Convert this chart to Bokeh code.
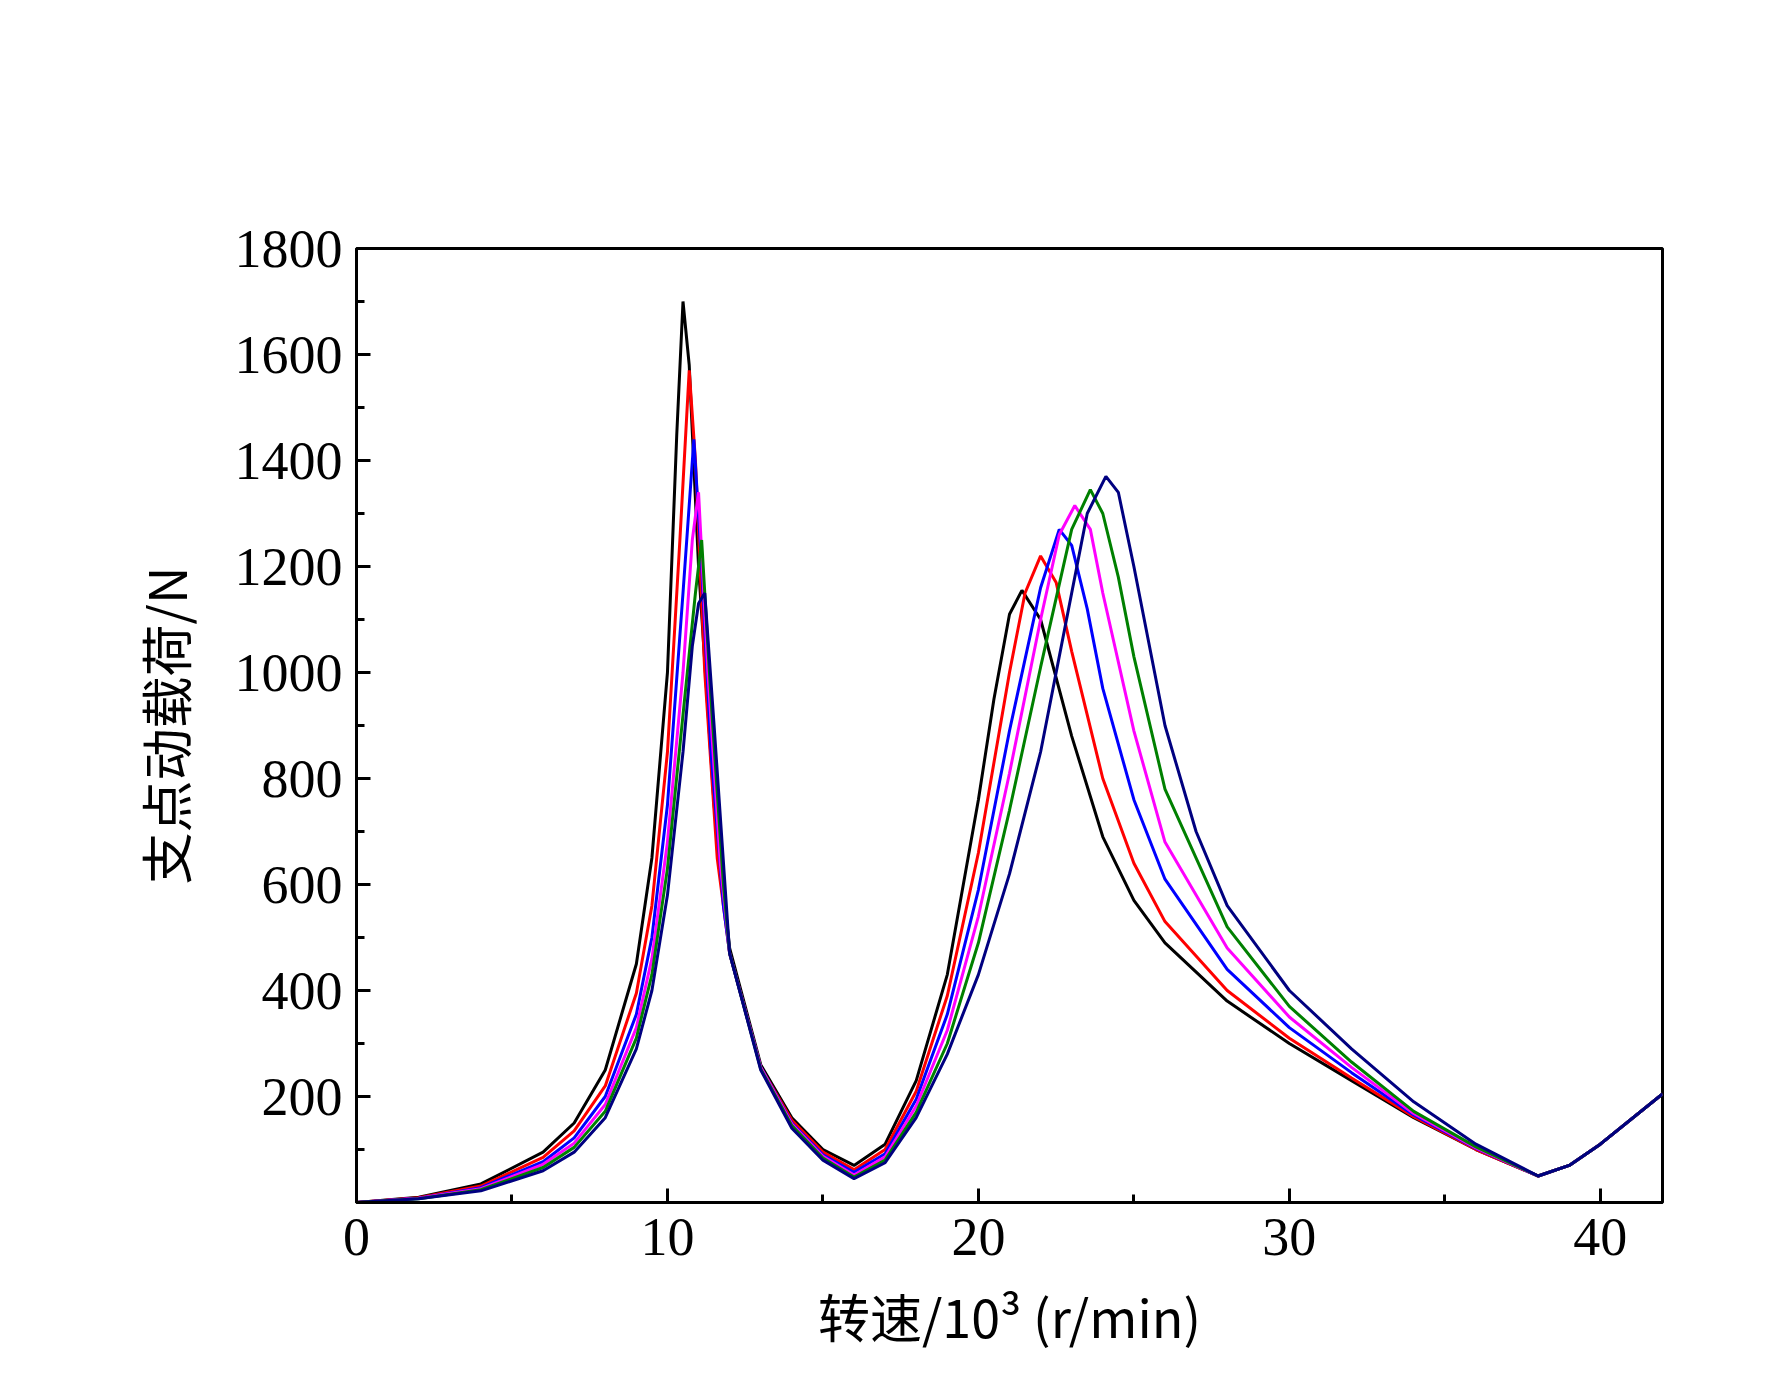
from bokeh.plotting import figure
from bokeh.models import Legend, LegendItem, FixedTicker, Range1d
from bokeh.embed import file_html
from bokeh.resources import INLINE

labels = ["k₃=1.8×10⁷ N/m", "k₃=2.0×10⁷ N/m", "k₃=2.2×10⁷ N/m",
          "k₃=2.4×10⁷ N/m", "k₃=2.6×10⁷ N/m", "k₃=2.8×10⁷ N/m"]
colors = ["black", "red", "blue", "magenta", "green", "navy"]

x1 = [0,2,4,6,7,8,9,9.5,10,10.3,10.5,10.7,11,11.5,12,13,14,15,16,17,18,19,20,20.5,21,21.4,22,23,24,25,26,28,30,32,34,36,38,39,40,42]
y1 = [0,10,35,95,150,250,450,650,1000,1450,1700,1580,1200,750,480,260,160,100,70,110,230,430,760,950,1110,1155,1100,880,690,570,490,380,300,230,160,100,50,70,110,205]
x2 = [0,2,4,6,7,8,9,9.5,10,10.4,10.7,10.9,11.2,11.6,12,13,14,15,16,17,18,19,20,21,21.5,22,22.5,23,24,25,26,28,30,32,34,36,38,39,40,42]
y2 = [0,9,31,85,135,220,395,560,850,1250,1570,1400,1000,650,470,255,155,95,62,100,210,390,660,1000,1150,1220,1170,1040,800,640,530,400,310,235,162,100,50,70,110,205]
x3 = [0,2,4,6,7,8,9,9.5,10,10.5,10.85,11.1,11.4,11.8,12,13,14,15,16,17,18,19,20,21,22,22.6,23,23.5,24,25,26,28,30,32,34,36,38,39,40,42]
y3 = [0,8,28,77,122,200,355,500,750,1150,1440,1200,850,560,470,255,150,90,57,92,195,355,590,890,1160,1270,1240,1120,970,760,610,440,330,245,165,102,50,70,110,205]
x4 = [0,2,4,6,7,8,9,9.5,10,10.5,10.8,11.0,11.3,11.7,12,13,14,15,16,17,18,19,20,21,22,22.6,23.1,23.6,24,25,26,28,30,32,34,36,38,39,40,42]
y4 = [0,8,26,72,112,185,330,460,680,1000,1250,1340,1000,640,470,255,148,87,52,86,182,325,540,810,1100,1260,1315,1270,1150,890,680,480,350,255,168,103,50,70,110,205]
x5 = [0,2,4,6,7,8,9,9.5,10,10.5,10.9,11.1,11.4,11.8,12,13,14,15,16,17,18,19,20,21,22,23,23.6,24,24.5,25,26,28,30,32,34,36,38,39,40,42]
y5 = [0,7,24,66,104,172,310,430,630,920,1150,1250,950,600,470,252,145,84,48,80,170,300,490,740,1010,1270,1345,1300,1180,1030,780,520,370,265,172,105,50,70,110,205]
x6 = [0,2,4,6,7,8,9,9.5,10,10.5,10.8,11.0,11.2,11.5,12,13,14,15,16,17,18,19,20,21,22,23,23.5,24.1,24.5,25,26,27,28,30,32,34,36,38,39,40,42]
y6 = [0,7,22,60,95,160,290,400,580,850,1050,1130,1150,900,470,250,140,80,45,75,160,280,430,620,850,1150,1300,1370,1340,1200,900,700,560,400,290,190,110,50,70,110,205]
xs = [x1, x2, x3, x4, x5, x6]
ys = [y1, y2, y3, y4, y5, y6]

FONT = "Liberation Serif"
p = figure(width=1756, height=1380, output_backend="svg", toolbar_location=None,
           x_range=Range1d(0, 42), y_range=Range1d(0, 1800),
           min_border_left=356, min_border_right=94, min_border_bottom=178, min_border_top=248)
p.grid.visible = False
p.outline_line_color = "black"
p.outline_line_width = 3

items = []
for x, y, c, l in zip(xs, ys, colors, labels):
    r = p.line(x, y, line_color=c, line_width=3)
    items.append(LegendItem(label=l, renderers=[r]))

leg = Legend(items=items, nrows=3, location=(85, 977), border_line_color=None,
             label_text_font=FONT, label_text_font_size="54px", label_text_color="black",
             glyph_width=95, label_height=62, spacing=6, margin=0, padding=0, label_standoff=12,
             background_fill_alpha=0, glyph_height=50)
p.add_layout(leg, "center")

p.xaxis.ticker = FixedTicker(ticks=[0, 10, 20, 30, 40], minor_ticks=[5, 15, 25, 35])
p.yaxis.ticker = FixedTicker(ticks=list(range(200, 1801, 200)), minor_ticks=list(range(100, 1800, 200)))
for ax in (p.xaxis, p.yaxis):
    ax.major_tick_in = 14
    ax.major_tick_out = 0
    ax.minor_tick_in = 8
    ax.minor_tick_out = 0
    ax.axis_line_width = 3
    ax.major_tick_line_width = 3
    ax.minor_tick_line_width = 3
    ax.major_label_text_font = FONT
    ax.major_label_text_font_size = "54px"
    ax.major_label_text_color = "black"
    ax.axis_label_text_font = "Noto Sans CJK SC"
    ax.axis_label_text_font_size = "52px"
    ax.axis_label_text_font_style = "normal"
    ax.axis_label_text_color = "black"
p.xaxis.major_label_standoff = 16
p.yaxis.major_label_standoff = 14
p.xaxis.axis_label = "转速/10³ (r/min)"
p.yaxis.axis_label = "支点动载荷/N"
p.xaxis.axis_label_standoff = 20
p.yaxis.axis_label_standoff = 30

open("out.html", "w").write(file_html(p, INLINE))
